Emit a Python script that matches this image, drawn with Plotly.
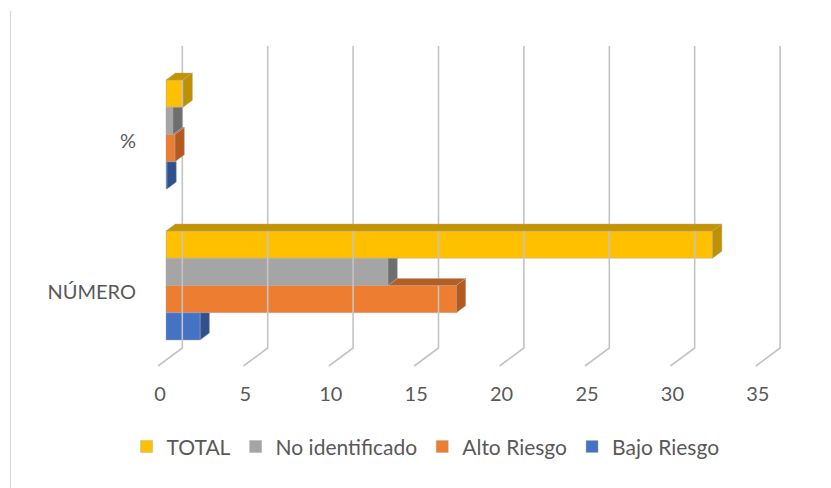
import plotly.graph_objects as go

# ---- data ----
categories = ["NÚMERO", "%"]
series_names = ["TOTAL", "No identificado", "Alto Riesgo", "Bajo Riesgo"]
values_numero = [32, 13, 17, 2]
values_pct = [1.0, 0.41, 0.53, 0.06]
x_ticks = [0, 5, 10, 15, 20, 25, 30, 35]

front_colors = ["#FFC000", "#A5A5A5", "#ED7D31", "#4472C4"]
side_colors = ["#BF9000", "#6E6E6E", "#B55A1E", "#2F528F"]
top_colors = ["#C49400", "#7C7C7C", "#B85D20", "#2F528F"]

# ---- geometry (layout styling) ----
W, H = 831, 488
L, R, T, B = 150, 31, 40, 118
px_per_x = 17.08
px_per_y = 151.0
x0_px = 166 - L          # pixel offset of value 0 inside plot area
xr = [-x0_px / px_per_x, (W - L - R - x0_px) / px_per_x]
num_center_px = 285.5 - T
yr = [-(H - T - B - num_center_px) / px_per_y, num_center_px / px_per_y]

bar_w = 27.25 / px_per_y
dx = 9.3 / px_per_x      # bar depth (horizontal)
dy = 7.0 / px_per_y      # bar depth (vertical)
grid_back = 16.3 / px_per_x
grid_front = -8.0 / px_per_x
grid_top = (285.5 - 46) / px_per_y
grid_bot = (285.5 - 348) / px_per_y
grid_floor = (285.5 - 366) / px_per_y

fig = go.Figure()

# back-wall gridlines and floor diagonals
gx, gy = [], []
for v in x_ticks:
    gx += [v + grid_back, v + grid_back, v + grid_front, None]
    gy += [grid_top, grid_bot, grid_floor, None]
fig.add_trace(go.Scatter(x=gx, y=gy, mode="lines", line=dict(color="#C4C4C4", width=1.6),
                         hoverinfo="skip", showlegend=False))

all_vals = [values_numero, values_pct]
edge = dict(color="rgba(170,170,170,0.7)", width=0.6)

# front faces as bars (legend)
for j, name in enumerate(series_names):
    ys, xs = [], []
    for ci, vals in enumerate(all_vals):
        yc = ci + (1.5 - j) * bar_w
        ys.append(yc)
        xs.append(vals[j])
    fig.add_trace(go.Bar(x=xs, y=ys, orientation="h", width=bar_w, base=0, name=name,
                         marker=dict(color=front_colors[j], line=edge),
                         hovertemplate=name + ": %{x}<extra></extra>"))

# 3D faces (top / side), clipped to visible parts
for ci, vals in enumerate(all_vals):
    for j in range(len(series_names)):
        v = vals[j]
        yc = ci + (1.5 - j) * bar_w
        yb, yt = yc - bar_w / 2, yc + bar_w / 2
        a = vals[j - 1] if j > 0 else 0.0
        # top face
        if j == 0 or v > a:
            xs0 = 0.0 if j == 0 else a
            fig.add_trace(go.Scatter(
                x=[xs0, v, v + dx, xs0 + dx, xs0], y=[yt, yt, yt + dy, yt + dy, yt],
                fill="toself", fillcolor=top_colors[j], mode="lines", line=edge,
                hoverinfo="skip", showlegend=False))
        # side face
        if j > 0 and a > v:
            sx = [v, v, v + dx, v + dx, v]
            sy = [yb, yt, yt, yb + dy, yb]
        else:
            sx = [v, v, v + dx, v + dx, v]
            sy = [yb, yt, yt + dy, yb + dy, yb]
        fig.add_trace(go.Scatter(x=sx, y=sy, fill="toself", fillcolor=side_colors[j],
                                 mode="lines", line=edge, hoverinfo="skip", showlegend=False))

font_family = "Lato, Calibri, sans-serif"
fig.update_layout(
    width=W, height=H, autosize=False,
    margin=dict(l=L, r=R, t=T, b=B, pad=0),
    paper_bgcolor="white", plot_bgcolor="white",
    font=dict(family=font_family, size=19, color="#595959"),
    barmode="overlay",
    showlegend=True,
    legend=dict(orientation="h", x=0.424, xanchor="center", y=-0.233, yanchor="middle",
                font=dict(size=21, color="#595959"), itemclick=False, traceorder="normal"),
    xaxis=dict(range=xr, tickvals=x_ticks, ticktext=[str(t) for t in x_ticks],
               showgrid=False, zeroline=False, showline=False, ticks="",
               tickfont=dict(size=20),
               ticklabelshift=-6, ticklabelstandoff=10, fixedrange=True),
    yaxis=dict(range=yr, tickvals=[0, 1], ticktext=categories, showgrid=False,
               zeroline=False, showline=False, ticks="", ticklabelshift=6,
               tickfont=dict(size=20),
               ticklabelstandoff=13, fixedrange=True),
    shapes=[dict(type="line", xref="paper", yref="paper",
                 x0=(10.5 - L) / (W - L - R), x1=(10.5 - L) / (W - L - R),
                 y0=(H - B - 11) / (H - T - B), y1=(H - B - 488) / (H - T - B),
                 line=dict(color="#D9D9D9", width=1.2))],
)

fig.write_html("out.html")
